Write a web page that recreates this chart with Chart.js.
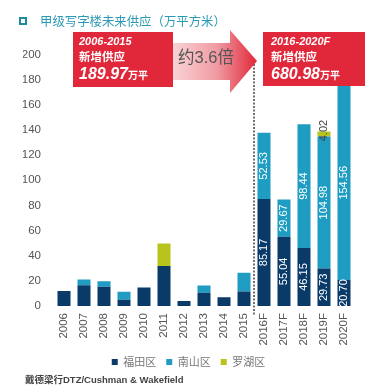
<!DOCTYPE html>
<html>
<head>
<meta charset="utf-8">
<script src="https://cdn.jsdelivr.net/npm/chart.js@4/dist/chart.umd.min.js"></script>
<style>
  html, body { margin: 0; padding: 0; background: #ffffff; }
  #wrap { position: relative; width: 383px; height: 389px; overflow: hidden; font-family: "Liberation Sans", "Noto Sans CJK SC", sans-serif; }
  canvas { position: absolute; left: 0; top: 0; }
  .abs { position: absolute; white-space: nowrap; }
  .title { left: 40px; top: 12px; font: 12.4px/18px "Noto Sans CJK SC", sans-serif; color: #2a9ab2; }
  .tsq { left: 19px; top: 17px; width: 4px; height: 4px; border: 2px solid #1d8b9e; }
  .rbox { background: #e0283a; }
  .rbox div { position: absolute; left: 6px; color: #fff; font-weight: bold; white-space: nowrap; }
  .l1 { top: 2px; font: italic bold 11px/14px "Liberation Sans", sans-serif; }
  .l2 { top: 17px; font: bold 11.5px/14px "Noto Sans CJK SC", sans-serif; }
  .l3 { top: 32px; font: italic bold 16px/20px "Liberation Sans", sans-serif; }
  .l3 span { font: bold 10px "Noto Sans CJK SC", sans-serif; font-style: normal; }
  .mult { left: 178px; top: 47px; font: 16.5px/20px "Liberation Sans", "Noto Sans CJK SC", sans-serif; color: #555; }
  .src { left: 25px; top: 374px; font: bold 9.5px/12px "Liberation Sans", "Noto Sans CJK SC", sans-serif; color: #444; }
</style>
</head>
<body>
<div id="wrap">
  <canvas id="c" width="383" height="389"></canvas>
  <svg class="abs" style="left:0;top:0" width="383" height="389">
    <defs>
      <linearGradient id="ag" x1="168" y1="0" x2="257" y2="0" gradientUnits="userSpaceOnUse">
        <stop offset="0" stop-color="#fadadc"/>
        <stop offset="0.55" stop-color="#f09aa2"/>
        <stop offset="1" stop-color="#e0283a"/>
      </linearGradient>
    </defs>
    <polygon points="168,43 230,43 230,30 257,61 230,93 230,80 168,80" fill="url(#ag)"/>
  </svg>
  <div class="abs tsq"></div>
  <div class="abs title">甲级写字楼未来供应（万平方米）</div>
  <div class="abs rbox" style="left:73px;top:32px;width:100px;height:55px;">
    <div class="l1">2006-2015</div>
    <div class="l2">新增供应</div>
    <div class="l3">189.97<span>万平</span></div>
  </div>
  <div class="abs mult">约3.6倍</div>
  <div class="abs rbox" style="left:263px;top:32px;width:102px;height:54px;">
    <div class="l1" style="left:8px">2016-2020F</div>
    <div class="l2" style="left:8px">新增供应</div>
    <div class="l3" style="left:8px">680.98<span>万平</span></div>
  </div>
  <div class="abs src">戴德梁行DTZ/Cushman &amp; Wakefield</div>
</div>
<script>
const categories = ['2006','2007','2008','2009','2010','2011','2012','2013','2014','2015','2016F','2017F','2018F','2019F','2020F'];
const futian  = [12.0, 16.6, 15.3, 5.0, 14.8, 31.9, 4.0, 10.5, 6.9, 11.6, 85.17, 55.04, 46.15, 29.73, 20.70];
const nanshan = [null, 4.5, 4.3, 6.3, null, null, null, 5.9, null, 14.8, 52.53, 29.67, 98.44, 104.98, 154.56];
const luohu   = [null, null, null, null, null, 17.8, null, null, null, null, null, null, null, 4.02, null];
const seriesNames = ['福田区', '南山区', '罗湖区'];
const yTicks = [0, 20, 40, 60, 80, 100, 120, 140, 160, 180, 200];
const forecastStart = 10;

const colors = ['#0a3a68', '#1e9cc2', '#b8c41c'];

const labelPlugin = {
  id: 'barLabels',
  afterDatasetsDraw(chart) {
    const ctx = chart.ctx;
    ctx.save();
    ctx.font = '11px "Liberation Sans", sans-serif';
    ctx.textAlign = 'center';
    ctx.textBaseline = 'middle';
    chart.data.datasets.forEach((ds, di) => {
      const meta = chart.getDatasetMeta(di);
      meta.data.forEach((bar, i) => {
        const v = ds.data[i];
        if (v == null || i < forecastStart) return;
        const h = Math.abs(bar.base - bar.y);
        let cy = (bar.y + bar.base) / 2;
        let col = '#ffffff';
        if (h < 20) { cy = bar.y - 1; col = '#444444'; }
        ctx.save();
        ctx.translate(bar.x, cy);
        ctx.rotate(-Math.PI / 2);
        ctx.fillStyle = col;
        ctx.fillText(v.toFixed(2), 0, 0);
        ctx.restore();
      });
    });
    ctx.restore();
  }
};

const dividerPlugin = {
  id: 'divider',
  afterDraw(chart) {
    const x = chart.scales.x;
    const xd = (x.getPixelForValue(forecastStart - 1) + x.getPixelForValue(forecastStart)) / 2;
    const ctx = chart.ctx;
    ctx.save();
    ctx.strokeStyle = '#444';
    ctx.lineWidth = 1.5;
    ctx.setLineDash([2, 1.5]);
    ctx.beginPath();
    ctx.moveTo(xd, 64);
    ctx.lineTo(xd, chart.chartArea.bottom + 9);
    ctx.stroke();
    ctx.restore();
  }
};

new Chart(document.getElementById('c'), {
  type: 'bar',
  data: {
    labels: categories,
    datasets: [
      { label: seriesNames[0], data: futian, backgroundColor: colors[0], borderWidth: 0 },
      { label: seriesNames[1], data: nanshan, backgroundColor: colors[1], borderWidth: 0 },
      { label: seriesNames[2], data: luohu, backgroundColor: colors[2], borderWidth: 0 }
    ]
  },
  options: {
    responsive: false,
    animation: false,
    devicePixelRatio: 1,
    barPercentage: 0.65,
    categoryPercentage: 1.0,
    layout: { padding: { left: 23, right: 29, top: 54.5, bottom: 11.5 } },
    plugins: {
      tooltip: { enabled: false },
      legend: {
        position: 'bottom',
        labels: {
          boxWidth: 6, boxHeight: 6, padding: 10,
          color: '#777',
          font: { size: 11, family: '"Noto Sans CJK SC", sans-serif' }
        }
      }
    },
    scales: {
      x: {
        stacked: true,
        grid: { display: false, drawTicks: false },
        border: { display: false },
        ticks: {
          minRotation: 90, maxRotation: 90, padding: 7,
          color: '#555',
          font: { size: 11.5, family: '"Liberation Sans", sans-serif' }
        },
        afterFit(s) { s.height = 40.5; }
      },
      y: {
        stacked: true,
        min: 0, max: 200,
        grid: { display: false, drawTicks: false },
        border: { display: false },
        afterBuildTicks(s) { s.ticks = yTicks.map(v => ({ value: v })); },
        ticks: {
          padding: 13,
          color: '#555',
          font: { size: 11.5, family: '"Liberation Sans", sans-serif' }
        },
        afterFit(s) { s.width = 31; }
      }
    }
  },
  plugins: [labelPlugin, dividerPlugin]
});
</script>
</body>
</html>
